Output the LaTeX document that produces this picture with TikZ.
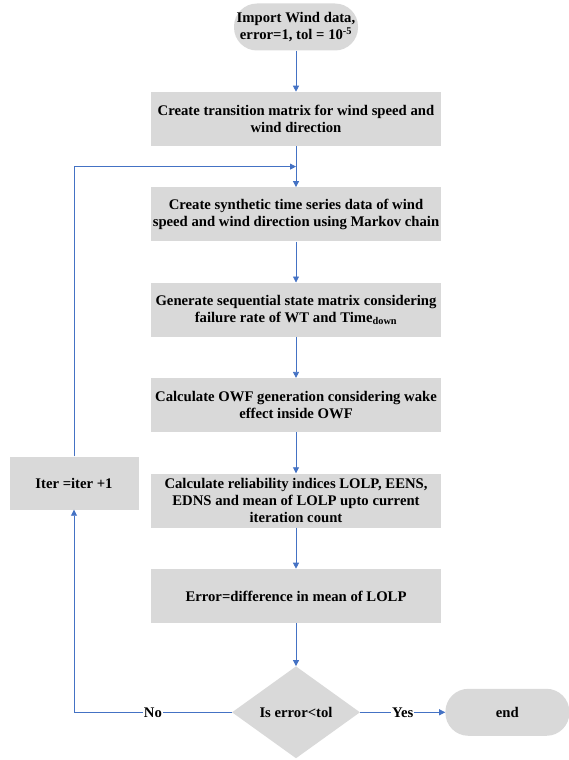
\documentclass[tikz,border=0pt]{standalone}
\usepackage{fontspec}
\setmainfont{Liberation Serif}
\usetikzlibrary{arrows.meta, positioning, calc, shapes.geometric}
\definecolor{fgray}{HTML}{D9D9D9}
\definecolor{fblue}{HTML}{4472C4}
\tikzset{
  >=Latex,
  font=\bfseries\fontsize{14.7}{17.3}\selectfont,
  proc/.style={
    fill=fgray, draw=none, align=center, inner sep=1pt,
    minimum width=290pt, minimum height=54pt
  },
  term/.style={
    fill=fgray, draw=none, align=center, rounded corners=23pt,
    inner sep=1pt, minimum width=124pt, minimum height=47pt
  },
  decide/.style={
    diamond, fill=fgray, draw=none, align=center, inner sep=0pt,
    aspect=1.39, minimum width=128pt, minimum height=92pt
  },
  arr/.style={-{Triangle[length=6pt,width=6pt]}, line width=0.8pt, draw=fblue},
  lab/.style={fill=white, inner sep=1pt}
}
\begin{document}
\begin{tikzpicture}[node distance=41pt]
  \useasboundingbox (0,0) rectangle (569pt,-760pt);
  \node[term] (start) at (296pt,-27pt)
    {Import Wind data,\\error=1, tol = 10\textsuperscript{-5}};
  \node[proc,below=of start] (trans)
    {Create transition matrix for wind speed and\\wind direction};
  \node[proc,below=of trans] (synth)
    {Create synthetic time series data of wind\\speed and wind direction using Markov chain};
  \node[proc,below=of synth] (state)
    {Generate sequential state matrix considering\\failure rate of WT and Time\textsubscript{down}};
  \node[proc,below=of state] (owf)
    {Calculate OWF generation considering wake\\effect inside OWF};
  \node[proc,below=of owf] (rel)
    {Calculate reliability indices LOLP, EENS,\\EDNS and mean of LOLP upto current\\iteration count};
  \node[proc,below=of rel] (err)
    {Error=difference in mean of LOLP};
  \node[decide,below=43pt of err] (check) {Is error<tol};
  \node[term,right=85pt of check] (end) {end};
  \node[proc,minimum width=129pt,minimum height=53pt] (iter) at (74pt,-483pt)
    {Iter =iter +1};
  \coordinate (join) at ($(trans.south)!0.5!(synth.north)$);
  % main column
  \draw[arr] (start) -- (trans);
  \draw[arr] (trans) -- (synth);
  \draw[arr] (synth) -- (state);
  \draw[arr] (state) -- (owf);
  \draw[arr] (owf) -- (rel);
  \draw[arr] (rel) -- (err);
  \draw[arr] (err) -- (check);
  \draw[arr] (check) -- node[lab] {Yes} (end);
  % loop back
  \draw[arr] (check.west) -| node[lab,pos=0.25] {No} (iter.south);
  \draw[arr] (iter.north) |- (join);
\end{tikzpicture}
\end{document}
